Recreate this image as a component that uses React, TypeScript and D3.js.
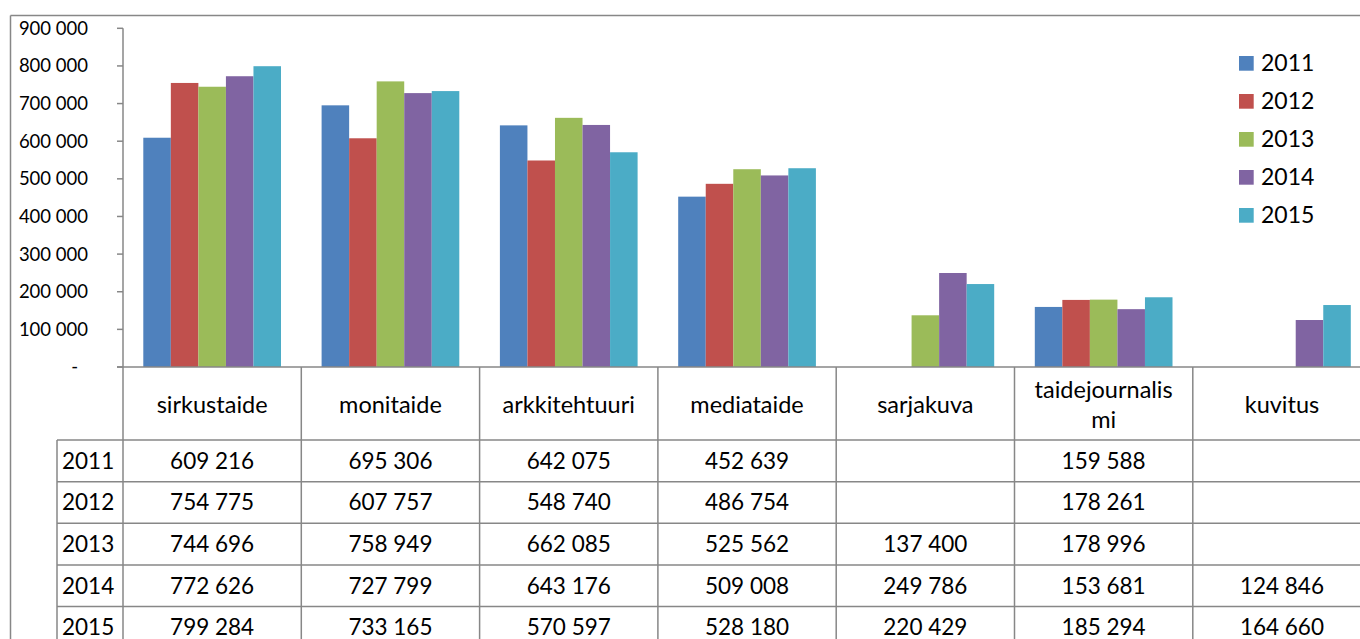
import React from "react";
import * as d3 from "d3";

const categories = ["sirkustaide", "monitaide", "arkkitehtuuri", "mediataide", "sarjakuva", "taidejournalismi", "kuvitus"];
const years = ["2011", "2012", "2013", "2014", "2015"];
const v2011: (number | null)[] = [609216, 695306, 642075, 452639, null, 159588, null];
const v2012: (number | null)[] = [754775, 607757, 548740, 486754, null, 178261, null];
const v2013: (number | null)[] = [744696, 758949, 662085, 525562, 137400, 178996, null];
const v2014: (number | null)[] = [772626, 727799, 643176, 509008, 249786, 153681, 124846];
const v2015: (number | null)[] = [799284, 733165, 570597, 528180, 220429, 185294, 164660];
const yTicks = [0, 100000, 200000, 300000, 400000, 500000, 600000, 700000, 800000, 900000];
const headerBreaks: Record<string, string[]> = { taidejournalismi: ["taidejournalis", "mi"] };

const series = [v2011, v2012, v2013, v2014, v2015];
const colors = ["#4F81BD", "#C0504D", "#9BBB59", "#8064A2", "#4BACC6"];

const W = 1360;
const H = 639;
const FONT = "Lato, 'Open Sans', sans-serif";
const GRID = "#878787";

const fmt = (v: number) => d3.format(",")(v).replace(/,/g, " ");

export default function App() {
  const plotLeft = 123;
  const catW = 178.3;
  const plotTop = 28.3;
  const plotBottom = 367;
  const headerBottom = 440;
  const rowH = 41.65;
  const yearColLeft = 57;

  const x = d3.scaleBand<string>().domain(categories).range([plotLeft, plotLeft + catW * categories.length]);
  const inner = d3.scaleBand<string>().domain(years).range([20.3, catW - 20.3]);
  const y = d3.scaleLinear().domain([0, 900000]).range([plotBottom, plotTop]);

  const right = plotLeft + catW * categories.length + 20;

  return (
    <svg width={W} height={H} style={{ position: "absolute", left: 0, top: 0, background: "#fff" }} fontFamily={FONT}>
      <rect x={0} y={0} width={W} height={H} fill="#fff" />
      {/* outer chart border */}
      <line x1={10.5} y1={15.5} x2={W + 5} y2={15.5} stroke={GRID} strokeWidth={1.5} />
      <line x1={10.5} y1={15.5} x2={10.5} y2={H + 5} stroke={GRID} strokeWidth={1.5} />

      {/* bars */}
      {series.map((s, si) =>
        s.map((v, ci) =>
          v == null ? null : (
            <rect
              key={`b-${si}-${ci}`}
              x={(x(categories[ci]) as number) + (inner(years[si]) as number)}
              y={y(v)}
              width={inner.bandwidth()}
              height={y(0) - y(v)}
              fill={colors[si]}
            />
          )
        )
      )}

      {/* y axis */}
      <line x1={plotLeft} y1={y(900000)} x2={plotLeft} y2={H + 5} stroke={GRID} strokeWidth={1.5} />
      {yTicks.map((t) => (
        <g key={`yt-${t}`}>
          <line x1={plotLeft - 6} x2={plotLeft} y1={y(t)} y2={y(t)} stroke={GRID} strokeWidth={1.5} />
          <text x={t === 0 ? 78 : 88} y={y(t)} dy="0.35em" textAnchor="end" fontSize={18.5} fill="#000">
            {t === 0 ? "-" : fmt(t)}
          </text>
        </g>
      ))}

      {/* x axis / table top */}
      <line x1={plotLeft - 6} y1={plotBottom} x2={right} y2={plotBottom} stroke={GRID} strokeWidth={1.5} />

      {/* column separators */}
      {categories.map((c) => (
        <line
          key={`vs-${c}`}
          x1={(x(c) as number) + catW}
          x2={(x(c) as number) + catW}
          y1={plotBottom}
          y2={H + 5}
          stroke={GRID}
          strokeWidth={1.5}
        />
      ))}

      {/* year column left border */}
      <line x1={yearColLeft} x2={yearColLeft} y1={headerBottom} y2={H + 5} stroke={GRID} strokeWidth={1.5} />

      {/* row lines */}
      {years.map((yr, ri) => (
        <line
          key={`rl-${yr}`}
          x1={yearColLeft}
          x2={right}
          y1={headerBottom + ri * rowH}
          y2={headerBottom + ri * rowH}
          stroke={GRID}
          strokeWidth={1.5}
        />
      ))}

      {/* header labels */}
      {categories.map((c) => {
        const lines = headerBreaks[c] || [c];
        const cx = (x(c) as number) + catW / 2;
        const cy = (plotBottom + headerBottom) / 2 + 1;
        const lh = 30;
        return (
          <text key={`h-${c}`} x={cx} textAnchor="middle" fontSize={23.5} fill="#000">
            {lines.map((ln, li) => (
              <tspan key={li} x={cx} y={cy + (li - (lines.length - 1) / 2) * lh} dy="0.35em">
                {ln}
              </tspan>
            ))}
          </text>
        );
      })}

      {/* table rows */}
      {years.map((yr, ri) => {
        const cy = headerBottom + ri * rowH + rowH / 2;
        return (
          <g key={`row-${yr}`}>
            <text x={62} y={cy} dy="0.35em" fontSize={22.5} fill="#000">
              {yr}
            </text>
            {series[ri].map((v, ci) =>
              v == null ? null : (
                <text
                  key={`c-${ri}-${ci}`}
                  x={(x(categories[ci]) as number) + catW / 2}
                  y={cy}
                  dy="0.35em"
                  textAnchor="middle"
                  fontSize={22.5}
                  fill="#000"
                >
                  {fmt(v)}
                </text>
              )
            )}
          </g>
        );
      })}

      {/* legend */}
      {years.map((yr, i) => {
        const cy = 63.3 + i * 38;
        return (
          <g key={`lg-${yr}`}>
            <rect x={1239} y={cy - 7.3} width={14.7} height={14.7} fill={colors[i]} />
            <text x={1261} y={cy} dy="0.35em" fontSize={23} fill="#000">
              {yr}
            </text>
          </g>
        );
      })}
    </svg>
  );
}
